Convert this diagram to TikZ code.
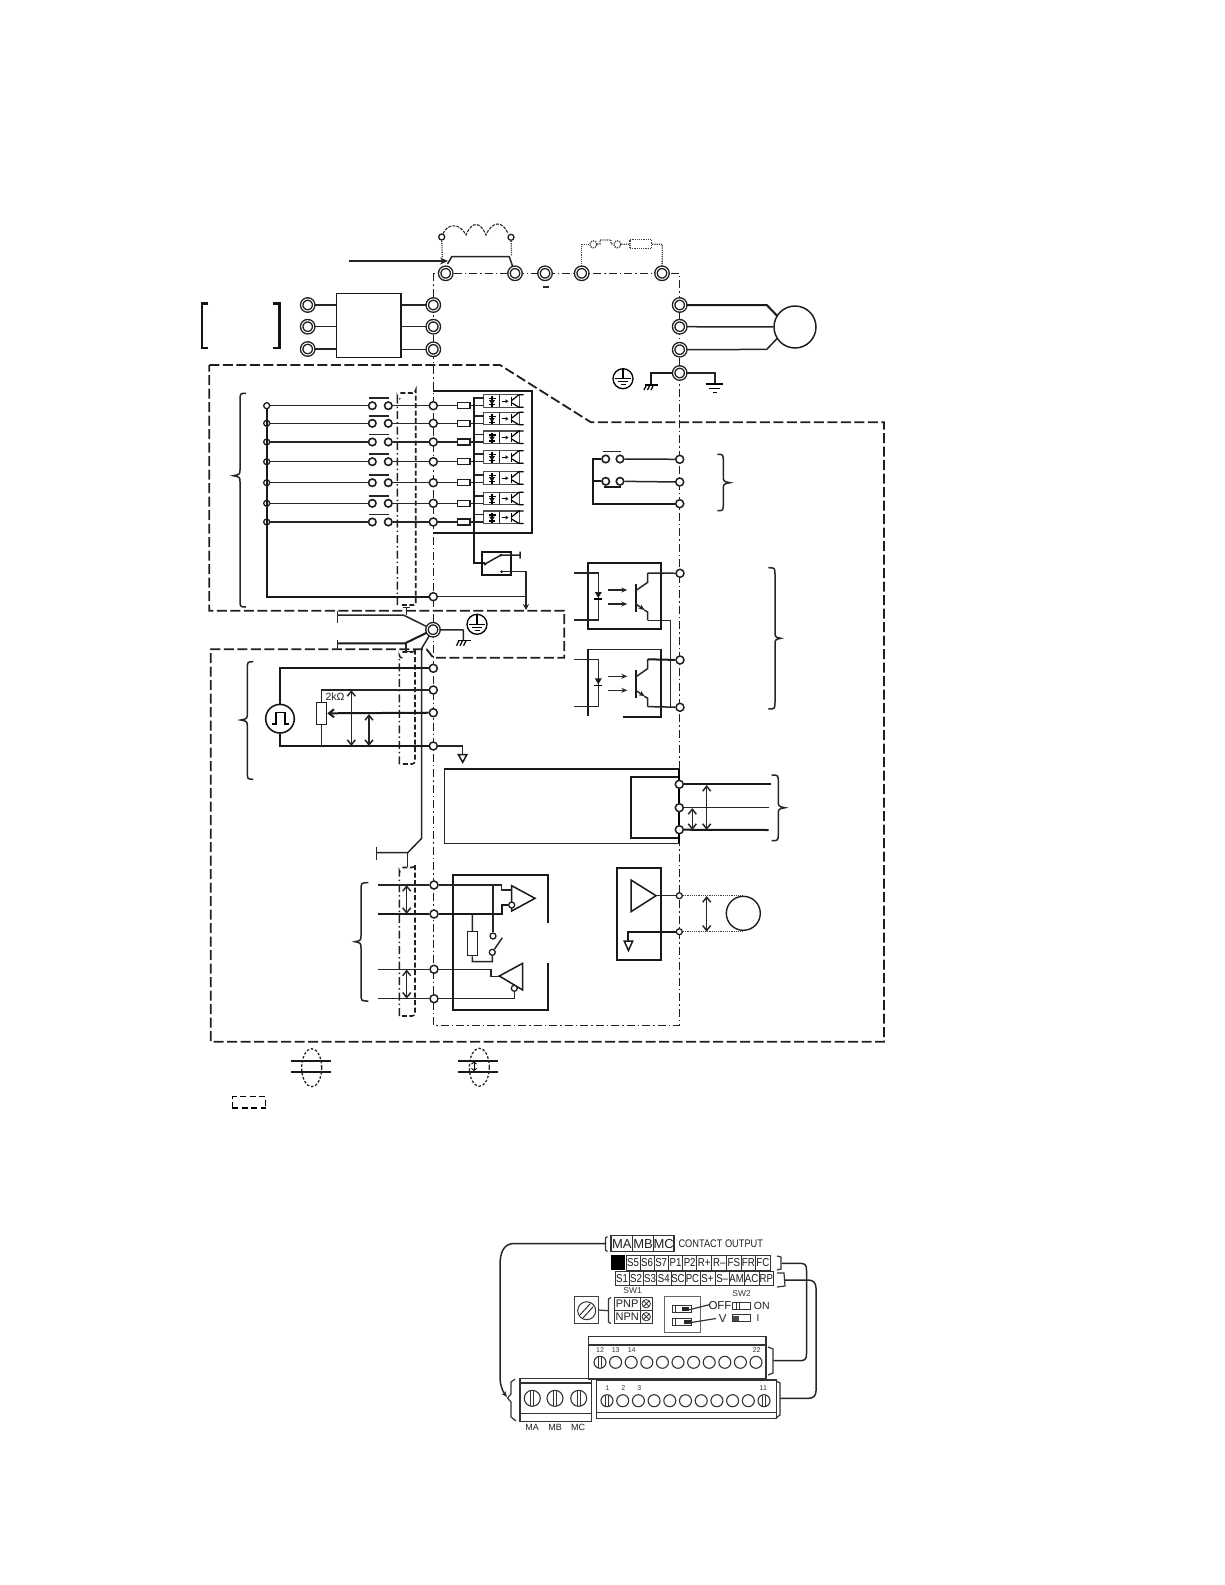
\documentclass[tikz,border=0pt]{standalone}
\usepackage{fontspec}
\setmainfont{Liberation Sans}
\newfontfamily\narrowsans[FakeStretch=0.84]{Liberation Sans}
\usetikzlibrary{arrows.meta}
\newcommand{\bracecurve}[6]{% tip x, body x, end x, top, mid, bottom
  \draw[wire] (#3,#4) .. controls (#2,#4) and (#2,#4) .. (#2,{#4+8}) -- (#2,{#5-6})
    .. controls (#2,{#5-2}) and (#2,{#5-1}) .. (#1,#5)
    .. controls (#2,{#5+1}) and (#2,{#5+2}) .. (#2,{#5+6}) -- (#2,{#6-8})
    .. controls (#2,#6) and (#2,#6) .. (#3,#6);}
\tikzset{
  x=1pt,y=-1pt,
  wire/.style={line width=1.5,draw=black!85},
  heavy/.style={line width=2,draw=black!90},
  fine/.style={line width=1.1,draw=black!85},
  longdash/.style={line width=1.8,draw=black!88,dash pattern=on 10 off 3.5},
  dashdot/.style={line width=1.5,draw=black!88,dash pattern=on 8 off 3 on 1.5 off 3},
  dashonly/.style={line width=1.6,draw=black!88,dash pattern=on 5 off 2.5},
  dotwire/.style={line width=1.3,draw=black!75,dash pattern=on 1.2 off 1},
  term/.style={circle,draw=black!88,fill=white,line width=1.5,minimum size=8,inner sep=0},
  smallterm/.style={circle,draw=black!88,fill=white,line width=1.3,minimum size=6,inner sep=0},
  contact/.style={circle,draw=black!88,fill=white,line width=1.6,minimum size=7.5,inner sep=0},
  bigterm/.style={circle,draw=black!88,fill=white,line width=1.4,double=white,double distance=1,minimum size=12,inner sep=0},
  twoway/.style={wire,{Straight Barb[length=5,width=8]}-{Straight Barb[length=5,width=8]}},
  ohm/.style={rectangle,draw=black!88,fill=white,line width=1.4,inner sep=0},
  lab/.style={inner sep=0,text=black!88,font=\fontsize{9}{10}\selectfont},
  cellbox/.style={inner sep=0,text=black!90,draw=black!80,line width=1,font=\narrowsans\fontsize{11.5}{12}\selectfont},
  tiny/.style={inner sep=0,text=black!80,font=\fontsize{7}{8}\selectfont},
  optocell/.pic={
    \draw[line width=1.3,draw=black!70,fill=white] (-17,-11) rectangle (19,1.5);
    \draw[fine] (-1,-11) -- (-1,1.5);
    \draw[line width=1.2] (-12,-7) -- (-5,-7) (-8.5,-9.5) -- (-8.5,1);
    \fill[black!90] (-11.5,-5.5) -- (-5.5,-5.5) -- (-8.5,-1) -- cycle;
    \draw[line width=1.2] (-11.5,-1) -- (-5.5,-1);
    \draw[line width=1.2] (1,-4.5) -- (5,-4.5);
    \fill[black!90] (5,-6.5) -- (8,-4.5) -- (5,-2.5) -- cycle;
    \draw[line width=1.4] (11,-9) -- (11,0);
    \draw[line width=1.2] (11,-5) -- (18.5,-11) -- (23,-11) (11,-3) -- (18.5,1.5) -- (23,1.5);
    \draw[wire] (-27,-7.5) -- (-17,-7.5);
  },
  coupler/.pic={
    \draw[wire] (-24,0) -- (0,0) -- (0,47) -- (-24,47);
    \fill[black!90] (-3.5,19) -- (3.5,19) -- (0,25) -- cycle;
    \draw[line width=1.4] (-4,26) -- (4,26);
    \foreach \v in {17,31}{\draw[wire,-{Stealth[length=6,width=5]}] (10,\v) -- (29,\v);}
    \draw[heavy] (37.4,11) -- (37.4,38.7);
    \draw[wire] (37.4,17.7) -- (49.4,9.3) -- (49.4,0);
    \draw[wire,-{Stealth[length=6,width=5]}] (37.4,31) -- (46.4,37);
    \draw[wire] (46,37) -- (49.4,39) -- (49.4,47.3);
    \coordinate (-c) at (49.4,0);
    \coordinate (-e) at (49.4,47.3);
  },
  peground/.pic={
    \draw[line width=1.3] (0,0) circle (10);
    \draw[line width=1.3] (0,-10) -- (0,0) (-8,0) -- (8,0) (-5,3) -- (5,3) (-2.5,6) -- (2.5,6);
  },
  hatch/.pic={
    \draw[line width=1.3] (-6.5,0) -- (6.5,0);
    \foreach \v in {-5,-1.5,2}{\draw[line width=1.2] (\v,0) -- ({\v-2.5},5);}
  },
  screw/.pic={
    \draw[line width=1,draw=black!80] (0,0) circle (9) (-6.5,4) -- (3.5,-7) (-3.5,7) -- (6.5,-4);
  },
}
\begin{document}
\begin{tikzpicture}
\useasboundingbox (0,0) rectangle (1225,1585);

% ---------- enclosing dashed outlines
\draw[longdash] (209.3,365) -- (500,365) -- (591,422.3) -- (884,422.3) -- (884,1041.7) -- (210.7,1041.7)
  -- (210.7,649.3) -- (426.7,649.3) -- (433.3,657.7) -- (564.3,657.7) -- (564.3,610.7) -- (209.3,610.7) -- cycle;
\draw[dashdot] (433.3,273.3) -- (433.3,1025.5) -- (679.6,1025.5) -- (679.6,273.3) -- cycle;

% ---------- shields
\draw[dashdot] (397.3,605) -- (397.3,396) arc[start angle=180,end angle=90,radius=3];
\draw[dashonly] (400.3,393) -- (412.7,393) arc[start angle=90,end angle=0,radius=3] -- (415.7,603) arc[start angle=0,end angle=90,radius=2] -- (400,605);
\draw[dashdot] (399.3,764.3) -- (399.3,655) arc[start angle=180,end angle=90,radius=3];
\draw[dashonly] (402.3,652) -- (412,652) arc[start angle=90,end angle=0,radius=3] -- (415,761) arc[start angle=0,end angle=90,radius=3] -- (402,764);
\draw[dashdot] (399.3,1016) -- (399.3,870.5) arc[start angle=180,end angle=90,radius=3];
\draw[dashonly] (402.3,867.5) -- (412,867.5) arc[start angle=90,end angle=0,radius=3] -- (415,1013) arc[start angle=0,end angle=90,radius=3] -- (402,1016);

% ---------- power terminals
\node[bigterm] (bu) at (445.7,273.3) {};
\node[bigterm] (bv) at (515,273.3) {};
\node[bigterm] (bw) at (545,273.3) {};
\node[bigterm] (bx) at (581.7,273.3) {};
\node[bigterm] (by) at (662,273.3) {};
\node[bigterm] (la) at (307.7,305) {};
\node[bigterm] (lb) at (307.7,326.7) {};
\node[bigterm] (lc) at (307.7,349) {};
\node[bigterm] (ra) at (433.3,305) {};
\node[bigterm] (rb) at (433.3,326.7) {};
\node[bigterm] (rc) at (433.3,349.3) {};
\node[bigterm] (ma) at (679.7,305) {};
\node[bigterm] (mb) at (679.7,326.7) {};
\node[bigterm] (mc) at (679.7,349.7) {};
\node[bigterm] (pe) at (679.7,373) {};
\node[bigterm] (se) at (433,629.7) {};

% DC reactor (dotted option)
\node[smallterm] (ind1) at (441.7,237) {};
\node[smallterm] (ind2) at (511,237.3) {};
\draw[fine,dash pattern=on 3 off 1.2] (ind1) .. controls (446,226) and (458,220) .. (466,235)
  .. controls (472,221) and (480,221) .. (486,235)
  .. controls (492,221) and (503,220) .. (508,234);
\coordinate (busl) at (451.7,256.7);
\coordinate (busr) at (509.3,256.7);
\coordinate (arrowstart) at (349.3,261);
\draw[dotwire] (ind1) -- (442.3,258);
\draw[dotwire] (ind2) -- (511.5,256);
\draw[wire] (447.5,264) -- (busl) -- (busr) -- (bv);
\draw[wire,-{Stealth[length=8,width=7]}] (arrowstart) -- (448,261);

% braking resistor (dotted option)
\coordinate (brl) at (581.7,244.3);
\coordinate (brr) at (662.3,244.3);
\node[circle,dotwire,minimum size=7,inner sep=0] (br1) at (593.3,244.3) {};
\node[circle,dotwire,minimum size=7,inner sep=0] (br2) at (617.3,244.3) {};
\node[rectangle,dotwire,minimum width=21.5,minimum height=9,inner sep=0] (brr0) at (640.8,244) {};
\draw[dotwire] (bx) -- (brl) -- (br1);
\draw[dotwire] (br1) -- (600,244) -- (600,240) -- (611,240) -- (611,244) -- (br2);
\draw[dotwire] (br2) -- (brr0);
\draw[dotwire] (brr0) -- (brr) -- (by);
\coordinate (minusa) at (543.3,287);
\coordinate (minusb) at (548.7,287);
\draw[fine] (minusa) -- (minusb);

% EMC filter
\draw[line width=2.2,draw=black!92] (208,303.5) -- (201.7,303.5) -- (201.7,348) -- (208,348);
\draw[line width=2.2,draw=black!92] (273,303.5) -- (279.5,303.5) -- (279.5,348) -- (273,348);
\node[rectangle,draw=black!90,line width=1.5,minimum width=64.7,minimum height=64.4,inner sep=0] (filter) at (368.7,325.5) {};
\foreach \n in {a,b,c}{
  \draw[wire] (l\n) -- (filter.west |- l\n);
  \draw[wire] (filter.east |- r\n) -- (r\n);
}

% motor
\node[circle,draw=black!88,line width=1.5,minimum size=42,inner sep=0] (motor) at (795,327) {};
\coordinate (mka) at (766.7,305);
\coordinate (mkc) at (766.7,349.4);
\draw[heavy] (ma) -- (mka) -- (777.3,316);
\draw[wire] (mb) -- (motor);
\draw[wire] (mc) -- (mkc) -- (777.3,338.3);
\coordinate (pel) at (650.7,373);
\coordinate (per) at (715,373);
\draw[heavy] (pe) -- (pel) -- (650.7,385);
\draw[wire] (pe) -- (per) -- (715,384);
\pic at (651.5,385) {hatch};
\draw[line width=1.3] (705.7,384) -- (723.3,384) (709,388.3) -- (720,388.3) (712.7,392.7) -- (716.7,392.7);
\pic at (623,378.7) {peground};

% ---------- digital inputs
\draw[heavy] (433.3,391) -- (532.3,391) -- (532.3,532.7) -- (433.3,532.7);
\foreach \i/\y in {1/405.7,2/423.3,3/442,4/461.7,5/482.7,6/503.3,7/522}{
  \node[smallterm] (a\i) at (266.7,\y) {};
  \node[contact] (s\i) at (372.3,\y) {};
  \node[contact] (u\i) at (388.3,\y) {};
  \node[term] (t\i) at (433.3,\y) {};
  \node[ohm,minimum width=12.5,minimum height=6] (r\i) at (463.7,\y) {};
  \draw[wire] (a\i) -- (s\i);
  \draw[wire] (u\i) -- (t\i);
  \draw[wire] (t\i) -- (r\i);
  \draw[wire] (r\i) -- (483,\y);
  \draw[wire] (368.5,\y-7.5) -- (389,\y-7.5);
  \pic at (500.5,\y) {optocell};
}
\bracecurve{233.3}{240}{246}{393.3}{475.7}{607}
\node[term] (tc) at (433.3,596.7) {};
\coordinate (relayin) at (474,563.3);
\coordinate (comnode) at (526,596.7);
\draw[heavy] (a1) -- (266.7,596.7) -- (tc);
\draw[fine] (tc) -- (comnode);
\draw[heavy] (474,396.7) -- (relayin) -- (485,563.3);
% PNP/NPN relay
\node[rectangle,draw=black!92,line width=1.8,minimum width=29.3,minimum height=23.3,inner sep=0] (relay) at (496.3,563.3) {};
\fill[black!90] (485,564) circle (1.5) (501,555) circle (1.5) (501.7,571.7) circle (1.5);
\draw[wire] (485,564) -- (501,555) -- (520,555) (520,551.5) -- (520,558.5);
\draw[wire,-{Stealth[length=6,width=6]}] (501.7,571.7) -- (526,571.7) -- (526,610);

% ---------- shield terminal
\draw[wire] (403.3,607.3) -- (410,607.3) (406.7,607.3) -- (406.7,615);
\coordinate (sa) at (403.3,615);
\coordinate (sb) at (337.3,615);
\draw[wire] (se) -- (sa) -- (sb);
\draw[wire] (337.3,610.5) -- (337.3,623);
\coordinate (sc) at (405,643.3);
\coordinate (sd) at (337.3,643.3);
\draw[heavy] (se) -- (sc) -- (sd);
\draw[wire] (337.3,640) -- (337.3,650);
\draw[wire] (406,641.7) -- (406,651.7) -- (413,651.7);
\coordinate (se1) at (421.7,648.3);
\coordinate (se2) at (421.7,838.3);
\coordinate (se3) at (407.7,852.7);
\coordinate (se4) at (376.7,852.7);
\draw[wire] (se) -- (se1) -- (se2) -- (se3) -- (se4);
\draw[wire] (376.7,846.7) -- (376.7,860);
\draw[wire] (se3) -- (407.7,867);
\coordinate (segr) at (463.3,630);
\draw[wire] (se) -- (segr) -- (463.3,640.7);
\pic at (464,640.7) {hatch};
\pic at (477,624.3) {peground};

% ---------- analog inputs
\node[term] (fv) at (433.3,668.3) {};
\node[term] (fs) at (433.3,690) {};
\node[term] (fr) at (433.3,712.7) {};
\node[term] (fc) at (433.3,746) {};
\node[circle,draw=black!90,line width=1.6,minimum size=28.6,inner sep=0] (pulse) at (280,718.7) {};
\draw[line width=1.4] (272,724) -- (276,724) -- (276,712.5) -- (285,712.5) -- (285,724) -- (289,724);
\node[ohm,minimum width=10,minimum height=22] (pot) at (321.7,713.3) {};
\coordinate (fvc) at (280,668.3);
\coordinate (fcc) at (280,746);
\coordinate (fsc) at (321.7,690);
\draw[heavy] (fv) -- (fvc) -- (pulse);
\draw[heavy] (pulse) -- (fcc) -- (fc);
\draw[wire] (fs) -- (fsc) -- (pot);
\draw[wire] (pot) -- (321.7,746);
\draw[heavy,-{Straight Barb[length=5,width=8]}] (fr) -- (pot.east);
\draw[twoway] (351.3,690) -- (351.3,746);
\draw[twoway] (369,714) -- (369,746);
\node[inner sep=0,text=black!85,font=\fontsize{10.5}{12}\selectfont] (potlab) at (335,696.7) {2kΩ};
\coordinate (gnd1) at (462.7,746);
\draw[wire] (fc) -- (gnd1) -- (462.7,754);
\draw[line width=1.5,draw=black!90] (458.3,754.5) -- (466.9,754.5) -- (462.7,762.3) -- cycle;
\bracecurve{240.7}{247.3}{253.3}{661.7}{720}{779.3}

% ---------- optocoupler outputs
\draw[heavy] (587.7,562.7) rectangle (661,629.3);
\draw[fine] (587.7,649.3) -- (661,649.3);
\draw[heavy] (587.7,715.7) -- (587.7,649.3);
\draw[heavy] (661,649.3) -- (661,716.7) -- (622.7,716.7);
\pic (o1) at (598.3,573) {coupler};
\pic (o2) at (598.3,659.3) {coupler};
\node[term] (e1) at (680,573.3) {};
\node[term] (e2) at (680,660) {};
\node[term] (e3) at (680,707.3) {};
\coordinate (eb) at (670.7,620.3);
\coordinate (eb2) at (670.7,707.3);
\draw[wire] (o1-c) -- (e1);
\draw[heavy] (o2-c) -- (e2);
\draw[wire] (o1-e) -- (eb) -- (eb2);
\draw[wire] (o2-e) -- (e3);
\bracecurve{780.7}{775}{768.3}{567.7}{638.3}{709}

% ---------- pulse train switches
\node[term] (p1) at (679.7,459.3) {};
\node[term] (p2) at (679.7,482) {};
\node[term] (p3) at (679.7,503.7) {};
\node[contact] (k1) at (605.7,459) {};
\node[contact] (k2) at (620,459) {};
\node[contact] (k3) at (605.7,481.3) {};
\node[contact] (k4) at (620,481.3) {};
\coordinate (kl1) at (592.7,459);
\coordinate (kl2) at (592.7,481.3);
\coordinate (kl3) at (592.7,503.7);
\draw[heavy] (k1) -- (kl1) -- (kl3) -- (p3);
\draw[heavy] (kl2) -- (k3);
\draw[wire] (k2) -- (p1);
\draw[wire] (k4) -- (p2);
\draw[wire] (603.3,451.7) -- (620.7,451.7);
\draw[heavy] (603.5,486.7) -- (620.7,486.7);
\bracecurve{730}{723.3}{717.3}{454.3}{482.7}{510.7}

% ---------- relay output block
\draw[heavy] (444.3,769.3) -- (679,769.3);
\draw[fine] (444.3,769.3) -- (444.3,843.3) -- (679,843.3);
\draw[heavy] (679,776.7) -- (630.7,776.7) -- (630.7,837.7) -- (679,837.7);
\draw[line width=1.8] (679,769.3) -- (679,843.3);
\node[term] (c1) at (679.3,784.3) {};
\node[term] (c2) at (679.3,807.7) {};
\node[term] (c3) at (679.3,829.7) {};
\coordinate (cr1) at (771,784.3);
\coordinate (cr2) at (768.7,807.7);
\coordinate (cr3) at (768.7,830);
\draw[heavy] (c1) -- (cr1);
\draw[wire] (c2) -- (cr2);
\draw[heavy] (c3) -- (cr3);
\draw[twoway] (706.7,785) -- (706.7,830);
\draw[twoway] (692.3,808) -- (692.3,830);
\bracecurve{785}{778.3}{771.7}{775}{807.7}{840.7}

% ---------- serial comm
\node[term] (n1) at (434,885) {};
\node[term] (n2) at (434,914) {};
\node[term] (n3) at (434,969.3) {};
\node[term] (n4) at (434,998.7) {};
\coordinate (nl1) at (378.3,885);
\coordinate (nl2) at (378.3,914);
\coordinate (nl3) at (378.3,969.3);
\coordinate (nl4) at (378.3,998.7);
\coordinate (nr1) at (501.7,885);
\coordinate (nr2) at (501.7,914);
\coordinate (nr3) at (491,969.3);
\coordinate (nr4) at (514.3,998.7);
\draw[wire] (nl1) -- (n1);
\draw[heavy] (nl2) -- (n2);
\draw[wire] (nl3) -- (n3);
\draw[wire] (nl4) -- (n4);
\draw[twoway] (406.7,885) -- (406.7,914);
\draw[twoway] (406.7,969.5) -- (406.7,998.7);
\draw[heavy] (548,923.3) -- (548,874.7) -- (453,874.7) -- (453,1010) -- (548,1010) -- (548,963.3);
\draw[line width=1.5,draw=black!90] (511.7,885.7) -- (535,898.3) -- (511.7,911) -- cycle;
\draw[line width=1.5,draw=black!90] (499.3,976) -- (522.7,963.3) -- (522.7,990) -- cycle;
\node[smallterm] (inv1) at (511.7,905) {};
\node[smallterm] (inv2) at (514.3,988.3) {};
\node[smallterm] (sw1) at (493,936) {};
\node[smallterm] (sw2) at (492.3,952.3) {};
\node[ohm,minimum width=9.6,minimum height=24] (rt) at (472.5,943.7) {};
\coordinate (rta) at (472.3,914);
\coordinate (rtb) at (472.3,961.7);
\coordinate (rtc) at (492.3,961.7);
\coordinate (top1) at (493,885);
\draw[wire] (n1) -- (nr1) -- (501.7,890) -- (511.7,890);
\draw[heavy] (n2) -- (nr2) -- (501.7,905) -- (inv1);
\draw[wire] (top1) -- (sw1);
\draw[wire] (rta) -- (rt);
\draw[wire] (rt) -- (rtb) -- (rtc) -- (sw2);
\draw[wire] (sw2) -- (502.3,937.7);
\draw[wire] (n3) -- (nr3) -- (491,976.7) -- (499.3,976.7);
\draw[wire] (n4) -- (nr4) -- (inv2);
\bracecurve{355}{361}{368.3}{882.7}{941.7}{1001}

% ---------- analog monitor
\draw[heavy] (616.7,867.7) rectangle (660.7,960);
\draw[line width=1.5,draw=black!90] (631,880) -- (656,895.7) -- (631,911.7) -- cycle;
\node[smallterm] (am1) at (679.3,895.7) {};
\node[smallterm] (am2) at (679.3,931.7) {};
\coordinate (amc) at (627.7,931.7);
\draw[wire] (656,895.7) -- (am1);
\draw[heavy] (am2) -- (amc) -- (627.7,941);
\draw[line width=1.5,draw=black!90] (624.2,941) -- (632.7,941) -- (628.4,950.5) -- cycle;
\node[circle,draw=black!88,line width=1.4,minimum size=34,inner sep=0] (meter) at (743.3,913.3) {};
\coordinate (amr1) at (743.3,895.7);
\coordinate (amr2) at (743.3,931.7);
\draw[dotwire] (am1) -- (amr1);
\draw[dotwire] (am2) -- (amr2);
\draw[twoway] (706.7,896) -- (706.7,931.7);

% ---------- legend
\draw[heavy] (291,1060.7) -- (330.7,1060.7) (291,1071.7) -- (330.7,1071.7);
\draw[line width=1.3,draw=black!85,dash pattern=on 2.5 off 1.8] (311.7,1067.7) ellipse [x radius=10,y radius=19];
\draw[heavy] (458.3,1060.7) -- (498.3,1060.7) (458.3,1071.7) -- (498.3,1071.7);
\draw[line width=1.3,draw=black!85,dash pattern=on 2.5 off 1.8] (479.3,1067.3) ellipse [x radius=10,y radius=19];
\draw[line width=0.9,{Straight Barb[length=2,width=5]}-{Straight Barb[length=2,width=5]}] (474,1061.5) -- (474,1071);
\draw[line width=1.3,dash pattern=on 6 off 3.5] (232.3,1108) -- (232.3,1096.7) -- (265.7,1096.7) -- (265.7,1108);
\draw[line width=2,dash pattern=on 6 off 3.5] (232.3,1108.3) -- (265.7,1108.3);

% ======================= lower figure: terminal layout
\begin{scope}[draw=black!80]
\node[lab,font=\fontsize{13}{14}\selectfont] (lma) at (621.8,1244) {MA};
\node[lab,font=\fontsize{13}{14}\selectfont] (lmb) at (643,1244) {MB};
\node[lab,font=\fontsize{13}{14}\selectfont] (lmc) at (663.7,1244) {MC};
\draw[line width=1.1] (611,1235.7) rectangle (674,1251.7) (632.7,1235.7) -- (632.7,1251.7) (653.3,1235.7) -- (653.3,1251.7);
\node[lab,anchor=west,font=\narrowsans\fontsize{11}{12}\selectfont] (coutp) at (678.3,1244) {CONTACT OUTPUT};
\draw[line width=1.2] (607.5,1236.5) -- (605.5,1238) -- (605.5,1250) -- (607.5,1251.5);

\fill[black] (611,1255) rectangle (625,1270);
\foreach \l/\a/\b [count=\n] in {S5/626/640,S6/640/654,S7/654/668.3,P1/668.3/682.7,P2/682.7/696.7,R+/696.7/711.7,R–/711.7/726.7,FS/726.7/741,FR/741/755.7,FC/755.7/770}{
  \node[cellbox,minimum height=15,minimum width=\b-\a] (up\n) at ({(\a+\b)/2},1262.5) {\l};
}
\foreach \l/\a/\b [count=\n] in {S1/615/629,S2/629/643.3,S3/643.3/656.7,S4/656.7/671,SC/671/685,PC/685/700,S+/700/715,S–/715/729.3,AM/729.3/744,AC/744/759.3,RP/759.3/773.3}{
  \node[cellbox,minimum height=13.5,minimum width=\b-\a] (lo\n) at ({(\a+\b)/2},1278.5) {\l};
}
% brackets
\draw[line width=1.2] (777,1256) -- (781,1257) -- (781,1269) -- (777,1270);
\draw[line width=1.2] (777,1273) -- (784,1273) -- (785,1286) -- (777,1287);
\coordinate (ctop) at (606,1243.5);
\coordinate (cl1) at (513.3,1243.5);
\coordinate (cl2) at (500,1265);
\coordinate (cl3) at (500,1378);
\draw[wire] (ctop) -- (cl1) .. controls (504,1244) and (500,1252) .. (cl2) -- (cl3);
\draw[wire,-{Stealth[length=6,width=5]}] (cl3) .. controls (500,1385) and (503,1392) .. (507,1397);
\draw[line width=1.2] (515,1379) -- (511,1382) -- (511,1394) -- (507.5,1398) -- (511,1402) -- (511,1417) -- (516,1421);
\coordinate (rtop1) at (781.7,1263.3);
\coordinate (rtop2) at (800,1263.3);
\coordinate (rb1) at (806.5,1270);
\coordinate (rb2) at (806.5,1354);
\coordinate (rb3) at (800,1360.7);
\coordinate (rb4) at (773.3,1360.7);
\draw[wire] (rtop1) -- (rtop2) .. controls (805,1263.3) and (806.5,1265) .. (rb1) -- (rb2) .. controls (806.5,1359) and (805,1360.7) .. (rb3) -- (rb4);
\coordinate (rcp1) at (785,1280);
\coordinate (rcp2) at (808.3,1280);
\coordinate (rcp3) at (816,1288);
\coordinate (rcp4) at (816,1391);
\coordinate (rcp5) at (808.3,1398.3);
\coordinate (rcp6) at (780,1398.3);
\draw[wire] (rcp1) -- (rcp2) .. controls (813,1280) and (816,1283) .. (rcp3) -- (rcp4) .. controls (816,1396) and (813,1398.3) .. (rcp5) -- (rcp6);
\draw[line width=1.2] (768,1347) -- (773,1349) -- (773,1373) -- (768,1375);
\draw[line width=1.2] (776,1381) -- (780,1383) -- (780,1415) -- (776,1418);

% SW1
\node[tiny,font=\fontsize{8.5}{9}\selectfont] (sw1lab) at (632.7,1291) {SW1};
\node[rectangle,draw=black!75,line width=0.9,minimum width=24,minimum height=26.6,inner sep=0] (sc0) at (586.3,1310) {};
\pic at (586.7,1310.7) {screw};
\draw[line width=1.2] (sc0.east) -- (608.5,1310.7);
\draw[line width=1.2] (611,1297.5) -- (608.5,1299) -- (608.5,1322) -- (611,1323.5);
\node[lab,draw=black!80,line width=1,minimum width=25.7,minimum height=12.7,font=\fontsize{11}{12}\selectfont] (pnp) at (627.2,1303.7) {PNP};
\node[lab,draw=black!80,line width=1,minimum width=25.7,minimum height=12.7,font=\fontsize{11}{12}\selectfont] (npn) at (627.2,1316.7) {NPN};
\draw[line width=1] (640,1297.3) rectangle (652.5,1323.4) (640,1310.4) -- (652.5,1310.4);
\foreach \v in {1303.7,1316.7}{
  \draw[line width=0.8] (646.2,\v) circle (4.2) (643.3,{\v-3}) -- (649.3,{\v+3}) (643.3,{\v+3}) -- (649.3,{\v-3});
}
% DIP switches
\node[rectangle,draw=black!60,line width=0.9,minimum width=35.7,minimum height=35.6,inner sep=0] (dip) at (682.2,1314.5) {};
\draw[line width=1] (672.3,1305) rectangle (691.7,1312.3) (672.3,1318.3) rectangle (691.7,1325.7);
\draw[line width=0.8] (675.5,1305) -- (675.5,1312.3) (675.5,1318.3) -- (675.5,1325.7);
\fill[black!85] (682,1306.5) rectangle (689,1311);
\fill[black!85] (684,1320) rectangle (691,1324);
\node[lab,font=\fontsize{11.5}{12}\selectfont] (off) at (720,1305.5) {OFF};
\node[lab,font=\fontsize{11.5}{12}\selectfont] (vv) at (722.7,1318.5) {V};
\draw[line width=1.2] (688,1310) -- (710,1304.5);
\draw[line width=1.2] (688,1323) -- (716,1318.5);
\node[tiny,font=\fontsize{8.5}{9}\selectfont] (sw2lab) at (741.7,1293.3) {SW2};
\draw[line width=1] (732.3,1302) rectangle (750,1309) (732.3,1314.5) rectangle (750,1321.5);
\draw[line width=0.8] (736,1302) -- (736,1309) (739.5,1302) -- (739.5,1309);
\fill[black!70] (733,1315.5) rectangle (739,1320.5);
\node[lab,font=\fontsize{10.5}{12}\selectfont] (lon) at (761.7,1305.5) {ON};
\node[lab,font=\fontsize{10}{12}\selectfont] (lii) at (758,1318.5) {I};

% terminal strips
\draw[line width=1.1] (588.3,1336.7) rectangle (766,1379) (588.3,1345) -- (766,1345);
\draw[line width=1.1] (596.7,1380) rectangle (776.7,1418.3);
\draw[line width=1.6] (596.7,1412.3) -- (776.7,1412.3);
\foreach \n in {0,...,10}{
  \draw[line width=1.1] ({600+15.6*\n},1362.3) circle (6);
  \draw[line width=1.1] ({607+15.7*\n},1400.7) circle (6);
}
\draw[line width=0.9] (598.5,1356.5) -- (598.5,1368) (601.5,1356.5) -- (601.5,1368);
\draw[line width=0.9] (605.5,1395) -- (605.5,1406.5) (608.5,1395) -- (608.5,1406.5);
\draw[line width=0.9] (762.5,1395) -- (762.5,1406.5) (765.5,1395) -- (765.5,1406.5);
\node[tiny] (d12) at (600,1350) {12};
\node[tiny] (d13) at (615.7,1350) {13};
\node[tiny] (d14) at (631.7,1350) {14};
\node[tiny] (d22) at (756.7,1350) {22};
\node[tiny] (d1) at (607.3,1388) {1};
\node[tiny] (d2) at (623.3,1388) {2};
\node[tiny] (d3) at (639.3,1388) {3};
\node[tiny] (d11) at (763.3,1388) {11};
\draw[line width=1.1] (520,1378.3) rectangle (591.7,1421.7) (520,1383) -- (591.7,1383);
\draw[line width=1.6] (520,1413.5) -- (591.7,1413.5);
\foreach \xx in {532.3,555,578.7}{
  \draw[line width=1.1] (\xx,1398.3) circle (8);
  \draw[line width=0.9] ({\xx-1.5},1390.5) -- ({\xx-1.5},1406) ({\xx+1.5},1390.5) -- ({\xx+1.5},1406);
}
\node[lab,font=\fontsize{9}{10}\selectfont] (bma) at (532,1427) {MA};
\node[lab,font=\fontsize{9}{10}\selectfont] (bmb) at (555,1427) {MB};
\node[lab,font=\fontsize{9}{10}\selectfont] (bmc) at (578,1427) {MC};
\end{scope}
\end{tikzpicture}
\end{document}
